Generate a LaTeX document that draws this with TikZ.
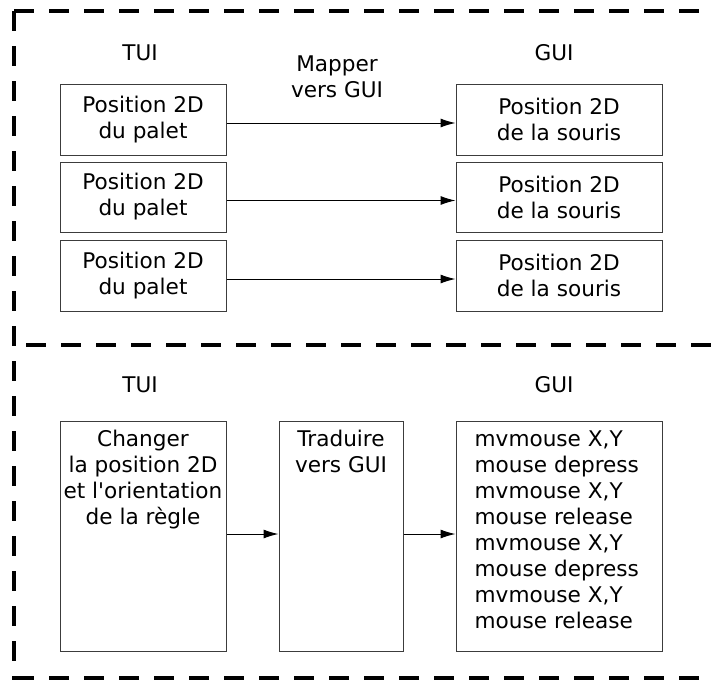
\documentclass[tikz,border=0pt]{standalone}
\usepackage{fontspec}
\setmainfont{DejaVu Sans}
\usepackage{tikz}
\usetikzlibrary{arrows.meta,positioning}
\definecolor{BoxGray}{RGB}{60,60,60}

\tikzset{
  txt/.style={font=\fontsize{21.6}{26}\selectfont, inner sep=0pt},
  boxnode/.style={draw=BoxGray, line width=1pt, txt, align=center},
  frame/.style={line width=3.2pt, dash pattern=on 20pt off 15pt},
  flow/.style={line width=1pt, -{Latex[length=15pt,width=9pt]}}
}

\begin{document}
\begin{tikzpicture}[x=1pt,y=-1pt]
  \useasboundingbox (0,0) rectangle (712,680);

  % cadres en pointilles
  \draw[frame] (14,11) -- (712,11);
  \draw[frame] (14,11) -- (14,680);
  \draw[frame] (26,345) -- (712,345);
  \draw[frame] (14,678) -- (712,678);

  % haut : mapping direct
  \node[txt] (tuiA) at (140,53) {TUI};
  \node[txt] (guiA) at (554,53) {GUI};
  \node[txt, align=center] (mapper) at (337,77) {Mapper\\vers GUI};

  \node[boxnode, minimum width=166pt, minimum height=71pt] (palet1) at (143,119.5) {Position 2D\\du palet};
  \node[boxnode, minimum width=166pt, minimum height=70pt] (palet2) at (143,197) {Position 2D\\du palet};
  \node[boxnode, minimum width=166pt, minimum height=71pt] (palet3) at (143,275.5) {Position 2D\\du palet};

  \node[boxnode, minimum width=206pt, minimum height=71pt] (souris1) at (559,119.5) {Position 2D\\de la souris};
  \node[boxnode, minimum width=206pt, minimum height=70pt] (souris2) at (559,197) {Position 2D\\de la souris};
  \node[boxnode, minimum width=206pt, minimum height=71pt] (souris3) at (559,275.5) {Position 2D\\de la souris};

  \draw[flow] ([yshift=-3.5pt]palet1.east) -- ([yshift=-3.5pt]souris1.west);
  \draw[flow] ([yshift=-3.5pt]palet2.east) -- ([yshift=-3.5pt]souris2.west);
  \draw[flow] ([yshift=-3.5pt]palet3.east) -- ([yshift=-3.5pt]souris3.west);

  % bas : traduction en evenements
  \node[txt] (tuiB) at (140,385) {TUI};
  \node[txt] (guiB) at (554,385) {GUI};

  \node[draw=BoxGray, line width=1pt, minimum width=166pt, minimum height=230pt] (regle) at (143,536) {};
  \node[draw=BoxGray, line width=1pt, minimum width=124pt, minimum height=230pt] (traduire) at (341,536) {};
  \node[draw=BoxGray, line width=1pt, minimum width=206pt, minimum height=230pt] (events) at (559,536) {};

  \node[txt, align=center, anchor=north] (regleT) at ([yshift=-9.5pt]regle.north)
    {Changer\\la position 2D\\et l\textquotesingle orientation\\de la règle};
  \node[txt, align=center, anchor=north] (traduireT) at ([yshift=-9.5pt]traduire.north)
    {Traduire\\vers GUI};
  \node[txt, align=left, anchor=north west] (eventsT) at ([xshift=19pt,yshift=-10pt]events.north west)
    {mvmouse X,Y\\mouse depress\\mvmouse X,Y\\mouse release\\mvmouse X,Y\\mouse depress\\mvmouse X,Y\\mouse release};

  \draw[flow] ([yshift=2pt]regle.east) -- ([yshift=2pt]traduire.west);
  \draw[flow] ([yshift=2pt]traduire.east) -- ([yshift=2pt]events.west);
\end{tikzpicture}
\end{document}
